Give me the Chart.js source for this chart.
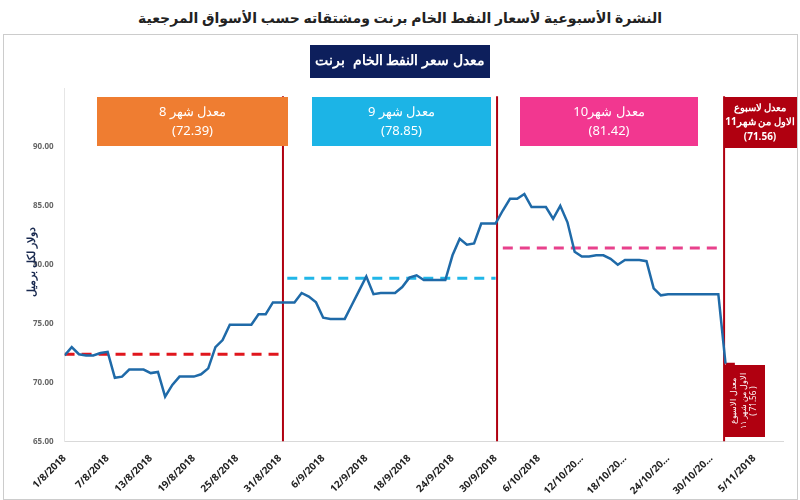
<!DOCTYPE html>
<html><head><meta charset="utf-8">
<script src="https://cdn.jsdelivr.net/npm/chart.js@4/dist/chart.umd.min.js"></script>
<style>body{margin:0;background:#fff}#w{position:relative;width:800px;height:500px}
#t{position:absolute;top:8px;left:0;width:800px;text-align:center;font:bold 14px "Noto Sans","DejaVu Sans";color:#222;direction:rtl}
#frame{position:absolute;left:3px;top:34px;width:793px;height:464px;border:1px solid #ccc}
canvas{position:absolute;left:0;top:0}</style></head>
<body><div id="w"><div id="t">النشرة الأسبوعية  لأسعار النفط الخام برنت ومشتقاته حسب الأسواق المرجعية</div><div id="frame"></div><canvas id="c" width="800" height="500"></canvas></div>
<script>
const days=[];for(let i=0;i<=92;i++)days.push(i);
const prices=[72.3,73.0,72.4,72.3,72.3,72.5,72.6,70.4,70.5,71.1,71.1,71.1,70.8,70.9,68.8,69.8,70.5,70.5,70.5,70.7,
71.2,73.0,73.6,74.9,74.9,74.9,74.9,75.8,75.8,76.8,76.8,76.8,76.8,77.6,77.3,76.8,75.5,75.4,75.4,75.4,
76.6,77.8,79.0,77.5,77.6,77.6,77.6,78.1,78.9,79.1,78.7,78.7,78.7,78.7,80.8,82.2,81.7,81.8,83.5,83.5,
83.5,84.6,85.6,85.6,86.0,84.9,84.9,84.9,83.9,85.0,83.6,81.1,80.7,80.7,80.8,80.8,80.5,80.0,80.4,80.4,
80.4,80.3,78.0,77.4,77.5,77.5,77.5,77.5,77.5,77.5,77.5,77.5,71.6];
const tickLabels=["1/8/2018","7/8/2018","13/8/2018","19/8/2018","25/8/2018","31/8/2018","6/9/2018","12/9/2018","18/9/2018","24/9/2018","30/9/2018","6/10/2018","12/10/20...","18/10/20...","24/10/20...","30/10/20...","5/11/2018"];
const avgNames=["معدل شهر 8","معدل شهر 9","معدل شهر10"];
const avgValues=[72.39,78.85,81.42,71.56];
const avgStart=[0,31,61,92];
const avgEnd=[30.4,60,91,93.3];
const avgColors=["#e0161d","#21b6e8","#e8418c","#b00010"];
const dividers=[30.4,60.2,91.8];

const ds=[{data:days.map((d,i)=>({x:d,y:prices[i]})),borderColor:"#1f6aa8",borderWidth:2.5,pointRadius:0,tension:0}];
avgValues.forEach((v,i)=>ds.push({data:[{x:avgStart[i],y:v},{x:avgEnd[i],y:v}],borderColor:avgColors[i],borderWidth:3,borderDash:i<3?[10,7]:[],pointRadius:0}));
dividers.forEach(d=>ds.push({data:[{x:d,y:65},{x:d,y:94.3}],borderColor:"#b00010",borderWidth:2,pointRadius:0}));

const boxes={id:'boxes',afterDraw(c){const g=c.ctx;g.save();g.textAlign='center';g.textBaseline='middle';
 const B=(x,y,w,h,col)=>{g.fillStyle=col;g.fillRect(x,y,w,h);};
 B(310,45,180,33,"#0d1f5c");g.fillStyle="#fff";g.font='bold 14px "Noto Sans"';g.fillText("معدل سعر النفط الخام  برنت",400,61);
 const bx=[[97,191,"#ef7d31"],[312,179,"#1cb4e6"],[520,178,"#f23790"]];
 bx.forEach((b,i)=>{B(b[0],97,b[1],49,b[2]);g.fillStyle="#fff";g.font='13px "Noto Sans"';g.fillText(avgNames[i],b[0]+b[1]/2,112);g.fillText("("+avgValues[i].toFixed(2)+")",b[0]+b[1]/2,131);});
 B(724,97,73,51,"#b00010");g.fillStyle="#fff";g.font='bold 10px "Noto Sans"';
 g.fillText("معدل لاسبوع",760,108);g.fillText("الاول من شهر11",760,122);g.fillText("("+avgValues[3].toFixed(2)+")",760,137);
 B(724,365,41,72,"#b00010");g.save();g.translate(744,401);g.rotate(-Math.PI/2);g.font='8px "Noto Sans"';g.fillStyle="#fff";
 g.fillText("معدل الاسبوع",0,-10);g.fillText("الاول من شهر ١١",0,0);g.fillText("( 71.56 )",0,10);g.restore();
 g.save();g.translate(32,262);g.rotate(-Math.PI/2);g.fillStyle="#1a2a50";g.font='bold 11px "Noto Sans"';g.fillText("دولار لكل برميل",0,0);g.restore();
 g.restore();}};

new Chart(document.getElementById('c'),{type:'line',data:{datasets:ds},plugins:[boxes],
options:{responsive:false,animation:false,layout:{padding:{left:30,right:17,top:88}},
plugins:{legend:{display:false},tooltip:{enabled:false}},
scales:{x:{type:'linear',min:0,max:100,grid:{display:false,drawTicks:true},border:{color:'#d9d9d9'},
 ticks:{stepSize:6,autoSkip:false,maxRotation:45,minRotation:45,color:'#222',font:{size:10,weight:'bold',family:'Noto Sans'},
 callback:(v)=>v%6===0&&v/6<tickLabels.length?tickLabels[v/6]:''}},
y:{min:65,max:95,grid:{display:false},border:{color:'#e6e6e6'},
 ticks:{stepSize:5,color:'#666',font:{size:8,weight:'bold',family:'Noto Sans'},callback:v=>v>90?'':v.toFixed(2)}}}}});
</script></body></html>
